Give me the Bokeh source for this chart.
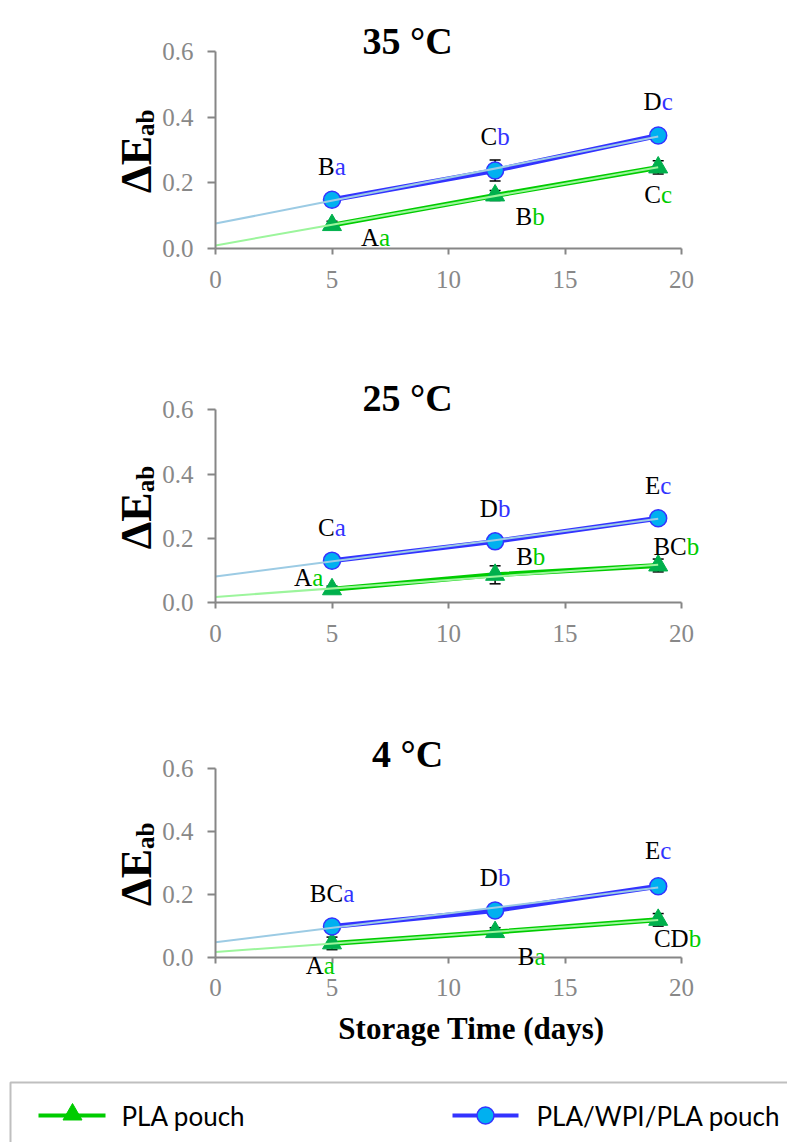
import numpy as np
from bokeh.plotting import figure
from bokeh.models import (Range1d, ColumnDataSource, Whisker, TeeHead, Label, LabelSet,
                          FixedTicker, NumeralTickFormatter, LinearAxis)
from bokeh.embed import file_html
from bokeh.resources import INLINE

# ---------------- data ----------------
DAYS = [5, 12, 19]
X_TICKS = [0, 5, 10, 15, 20]
Y_TICKS = [0.0, 0.2, 0.4, 0.6]
TITLES = ["35 °C", "25 °C", "4 °C"]
X_TITLE = "Storage Time (days)"
SERIES_NAMES = ["PLA pouch", "PLA/WPI/PLA pouch"]

PLA_35 = [0.072, 0.162, 0.247]
PLA_35_ERR = [0.012, 0.015, 0.020]
WPI_35 = [0.149, 0.238, 0.344]
WPI_35_ERR = [0.010, 0.032, 0.008]

PLA_25 = [0.042, 0.087, 0.116]
PLA_25_ERR = [0.010, 0.028, 0.020]
WPI_25 = [0.131, 0.191, 0.263]
WPI_25_ERR = [0.008, 0.006, 0.010]

PLA_4 = [0.044, 0.080, 0.119]
PLA_4_ERR = [0.020, 0.014, 0.020]
WPI_4 = [0.098, 0.149, 0.226]
WPI_4_ERR = [0.005, 0.006, 0.010]

PLA_35_LETTERS = ["Aa", "Bb", "Cc"]
WPI_35_LETTERS = ["Ba", "Cb", "Dc"]
PLA_25_LETTERS = ["Aa", "Bb", "BCb"]
WPI_25_LETTERS = ["Ca", "Db", "Ec"]
PLA_4_LETTERS = ["Aa", "Ba", "CDb"]
WPI_4_LETTERS = ["BCa", "Db", "Ec"]

# ---------------- placement / style ----------------
PLACE = {  # letter label anchors (x centre, baseline y) in data units
    "35": {"pla": [(6.87, 0.010), (13.5, 0.071), (19.0, 0.138)],
           "wpi": [(5.0, 0.223), (12.0, 0.314), (19.0, 0.420)]},
    "25": {"pla": [(4.0, 0.053), (13.53, 0.118), (19.78, 0.150)],
           "wpi": [(5.0, 0.209), (12.0, 0.268), (19.0, 0.339)]},
    "4":  {"pla": [(4.5, -0.052), (13.57, -0.026), (19.83, 0.032)],
           "wpi": [(5.0, 0.177), (12.0, 0.228), (19.0, 0.312)]},
}

W, H = 787, 1142
X0_PX = 215          # pixel of day 0
PX_PER_DAY = 466 / 20
# panel frames: (key, pixel of 0.6, pixel of 0.0, title gap px)
FRAMES = [("35", 50.7, 248.3, 10), ("25", 409.3, 602.3, 12), ("4", 768.3, 956.7, 15)]
SERIES = {
    "35": (PLA_35, PLA_35_ERR, WPI_35, WPI_35_ERR, PLA_35_LETTERS, WPI_35_LETTERS, TITLES[0]),
    "25": (PLA_25, PLA_25_ERR, WPI_25, WPI_25_ERR, PLA_25_LETTERS, WPI_25_LETTERS, TITLES[1]),
    "4": (PLA_4, PLA_4_ERR, WPI_4, WPI_4_ERR, PLA_4_LETTERS, WPI_4_LETTERS, TITLES[2]),
}

SERIF = "Liberation Serif"
TICK_FONT = "Liberation Serif"
AXIS_GRAY = "#868686"
LABEL_GRAY = "#888888"
GREEN_LINE = "#00cc00"
GREEN_FILL = "#00b04c"
GREEN_TREND = "#9cf59c"
BLUE_LINE = "#3333ff"
BLUE_FILL = "#00b0f0"
BLUE_TREND = "#9ccbe4"
LETTER_SIZE = 25
CW = {"A": .722, "B": .667, "C": .667, "D": .722, "E": .611, "a": .444, "b": .5, "c": .444}


def px2x(px):
    return (px - X0_PX) / PX_PER_DAY


p = figure(width=W, height=H, output_backend="svg", toolbar_location=None,
           x_range=Range1d(px2x(0), px2x(W)),
           y_range=Range1d(0, H), x_axis_type=None, y_axis_type=None, min_border=0)
p.outline_line_color = None
p.grid.visible = False
p.background_fill_color = "white"
p.border_fill_color = "white"


def split_letters(s):
    up = "".join(ch for ch in s if ch.isupper())
    lo = "".join(ch for ch in s if ch.islower())
    wu = sum(CW[c] for c in up) * LETTER_SIZE
    wl = sum(CW[c] for c in lo) * LETTER_SIZE
    return up, lo, wu - (wu + wl) / 2.0


def add_letters(letters, places, color, rn):
    ups, los, offs = [], [], []
    for s in letters:
        u, l, o = split_letters(s)
        ups.append(u); los.append(l); offs.append(o)
    src = ColumnDataSource(dict(x=[pl[0] for pl in places], y=[pl[1] for pl in places],
                                up=ups, lo=los, off=offs))
    for col, align, c in (("up", "right", "black"), ("lo", "left", color)):
        p.add_layout(LabelSet(x="x", y="y", text=col, source=src, x_offset="off", y_range_name=rn,
                              text_align=align, text_baseline="alphabetic",
                              text_font=SERIF, text_font_size=f"{LETTER_SIZE}px", text_color=c))


def style_axis(ax):
    ax.axis_line_color = AXIS_GRAY
    ax.axis_line_width = 2
    ax.major_tick_line_color = AXIS_GRAY
    ax.major_tick_line_width = 2
    ax.minor_tick_line_color = None
    ax.major_tick_in = 0
    ax.major_label_text_font = TICK_FONT
    ax.major_label_text_font_style = "normal"
    ax.major_label_text_font_size = "25px"
    ax.major_label_text_color = LABEL_GRAY


x = np.array(DAYS, dtype=float)
for key, top_px, zero_px, tgap in FRAMES:
    pla, pla_e, wpi, wpi_e, pla_l, wpi_l, title = SERIES[key]
    ppu = (zero_px - top_px) / 0.6
    rn = "p" + key
    p.extra_y_ranges[rn] = Range1d(-(H - zero_px) / ppu, zero_px / ppu)

    yax = LinearAxis(y_range_name=rn, fixed_location=0, bounds=(0, 0.6),
                     ticker=FixedTicker(ticks=Y_TICKS), formatter=NumeralTickFormatter(format="0.0"))
    style_axis(yax)
    yax.major_tick_out = 8
    yax.major_label_standoff = 14
    p.add_layout(yax, "left")
    xax = LinearAxis(y_range_name=rn, fixed_location=0, bounds=(0, 20),
                     ticker=FixedTicker(ticks=X_TICKS))
    style_axis(xax)
    xax.major_tick_out = 6
    xax.major_label_standoff = 16
    p.add_layout(xax, "below")

    for vals, errs, lc, fc, tc, kind in ((pla, pla_e, GREEN_LINE, GREEN_FILL, GREEN_TREND, "tri"),
                                         (wpi, wpi_e, BLUE_LINE, BLUE_FILL, BLUE_TREND, "circ")):
        v = np.array(vals); e = np.array(errs)
        esrc = ColumnDataSource(dict(x=x, lo=v - e, hi=v + e))
        p.add_layout(Whisker(base="x", lower="lo", upper="hi", source=esrc, level="underlay",
                             y_range_name=rn, line_color="black", line_width=1.5,
                             upper_head=TeeHead(size=11, line_color="black", line_width=1.5),
                             lower_head=TeeHead(size=11, line_color="black", line_width=1.5)))
        p.line(x, v, line_color=lc, line_width=5, y_range_name=rn)
        if kind == "tri":
            p.scatter(x, v, marker="triangle", size=19, fill_color=fc, line_color=fc,
                      line_width=1, y_range_name=rn)
        else:
            p.scatter(x, v, marker="circle", size=17, fill_color=fc, line_color=lc,
                      line_width=1.5, y_range_name=rn)
        k, b = np.polyfit(x, v, 1)
        tx = np.array([0.0, 19.0])
        p.line(tx, k * tx + b, line_color=tc, line_width=2, y_range_name=rn)

    add_letters(pla_l, PLACE[key]["pla"], GREEN_LINE, rn)
    add_letters(wpi_l, PLACE[key]["wpi"], BLUE_LINE, rn)

    p.add_layout(Label(x=px2x(407), y=0.6 + tgap / ppu, text=title, y_range_name=rn,
                       text_align="center", text_baseline="alphabetic",
                       text_font=SERIF, text_font_style="bold", text_font_size="38px",
                       text_color="black"))
    # y-axis title: ΔE with subscript ab, rotated
    jy = 0.3 + 14 / ppu
    p.add_layout(Label(x=px2x(136), y=jy, text="ΔE", angle=np.pi / 2, y_range_name=rn,
                       text_align="right", text_baseline="alphabetic",
                       text_font=SERIF, text_font_style="bold", text_font_size="44px",
                       text_color="black"))
    p.add_layout(Label(x=px2x(145), y=jy, text="ab", angle=np.pi / 2, y_range_name=rn,
                       text_align="left", text_baseline="alphabetic",
                       text_font=SERIF, text_font_style="bold", text_font_size="25px",
                       text_color="black"))
    if key == "4":
        p.add_layout(Label(x=px2x(471), y=-0.227, text=X_TITLE, y_range_name=rn,
                           text_align="center", text_baseline="alphabetic",
                           text_font=SERIF, text_font_style="bold", text_font_size="31px",
                           text_color="black"))

# ---------------- legend (page pixel coordinates, y up from bottom) ----------------
LEG = {"box_left": 10, "box_top": 60, "y": 27,
       "items": [(38, 105, 72, 121), (452, 518, 485, 536)]}

p.quad(left=px2x(LEG["box_left"]), right=px2x(W + 20), bottom=-20, top=LEG["box_top"],
       fill_color=None, line_color="#bfbfbf", line_width=2)
cy = LEG["y"]
(a0, a1, am, at), (b0, b1, bm, bt) = LEG["items"]
p.line([px2x(a0), px2x(a1)], [cy, cy], line_color=GREEN_LINE, line_width=4)
p.scatter([px2x(am)], [cy + 1], marker="triangle", size=19, fill_color=GREEN_LINE, line_color=GREEN_LINE)
p.line([px2x(b0), px2x(b1)], [cy, cy], line_color=BLUE_LINE, line_width=4)
p.scatter([px2x(bm)], [cy], marker="circle", size=17, fill_color=BLUE_FILL, line_color=BLUE_LINE,
          line_width=1.5)
for xt, name in ((at, SERIES_NAMES[0]), (bt, SERIES_NAMES[1])):
    p.add_layout(Label(x=px2x(xt), y=cy, text=name, text_align="left", text_baseline="middle",
                       text_font="Lato", text_font_size="26px", text_color="black"))

open("out.html", "w").write(file_html(p, INLINE))
